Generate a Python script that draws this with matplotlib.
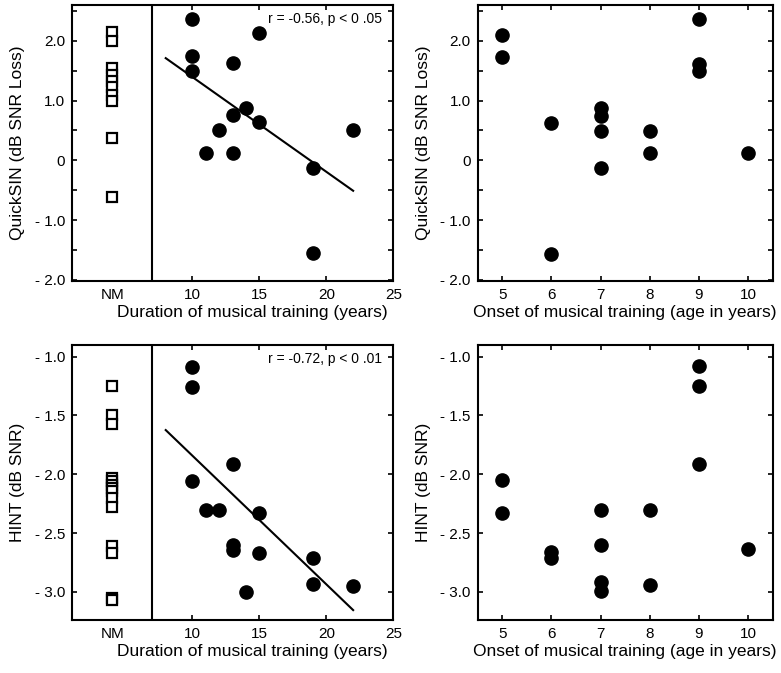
import matplotlib
matplotlib.use('Agg')
import matplotlib.pyplot as plt

plt.rcParams['font.family'] = ['Liberation Sans', 'DejaVu Sans']

# musicians: duration (years), onset (age), QuickSIN, HINT
duration_qs = [10, 15, 10, 10, 13, 14, 13, 15, 12, 22, 11, 13, 19, 19]
quicksin_mus = [2.37, 2.13, 1.74, 1.5, 1.63, 0.88, 0.76, 0.64, 0.5, 0.5, 0.13, 0.13, -0.13, -1.55]
onset_qs = [5, 5, 6, 6, 7, 7, 7, 7, 8, 8, 9, 9, 9, 10]
quicksin_onset = [2.1, 1.73, 0.63, -1.57, 0.87, 0.74, 0.49, -0.13, 0.49, 0.12, 2.37, 1.62, 1.49, 0.12]

duration_hint = [10, 10, 10, 13, 11, 12, 15, 13, 13, 15, 14, 19, 19, 22]
hint_mus = [-1.085, -1.255, -2.055, -1.913, -2.305, -2.305, -2.33, -2.6, -2.645, -2.668, -3.0, -2.716, -2.93, -2.95]
onset_hint = [5, 5, 6, 6, 7, 7, 7, 7, 8, 8, 9, 9, 9, 10]
hint_onset = [-2.05, -2.33, -2.66, -2.71, -2.3, -2.6, -2.92, -2.99, -2.3, -2.94, -1.08, -1.25, -1.91, -2.64]

# non-musicians (NM column)
quicksin_nm = [2.14, 1.99, 1.55, 1.43, 1.32, 1.22, 1.1, 1.0, 0.38, -0.62]
hint_nm = [-1.25, -1.5, -1.57, -2.03, -2.06, -2.09, -2.12, -2.14, -2.2, -2.28,
           -2.61, -2.67, -3.05, -3.07]

# regression lines (end points)
fit_x = [8, 22]
fit_qs = [1.71, -0.51]
fit_hint = [-1.624, -3.156]

NM_X = 4
DIVIDER_X = 7


def y_fmt(v):
    if abs(v) < 1e-9:
        return '0'
    if v < 0:
        return '- %.1f' % abs(v)
    return '%.1f' % v


def style_axes(ax, yticks, ylabels):
    for s in ax.spines.values():
        s.set_linewidth(1.5)
    ax.tick_params(direction='in', top=True, right=True, length=3.5, width=1.2,
                   labelsize=11, pad=5)
    ax.set_yticks(yticks)
    ax.set_yticklabels(ylabels)


fig = plt.figure(figsize=(7.81, 6.73), dpi=100)

top_y = (0.5825, 0.4101)
bot_y = (0.0788, 0.4086)
left_x = (0.0922, 0.4114)
right_x = (0.6116, 0.3778)

qs_ticks = [-2.0, -1.5, -1.0, -0.5, 0, 0.5, 1.0, 1.5, 2.0, 2.5]
qs_labels = [y_fmt(v) if abs(v * 2) % 2 == 0 else '' for v in qs_ticks]
hint_ticks = [-3.0, -2.5, -2.0, -1.5, -1.0]
hint_labels = [y_fmt(v) for v in hint_ticks]

panels = [
    (left_x, top_y, 'dur', duration_qs, quicksin_mus, quicksin_nm, fit_qs,
     'QuickSIN (dB SNR Loss)', (-2.02, 2.6), qs_ticks, qs_labels, 'r = -0.56, p < 0 .05'),
    (right_x, top_y, 'onset', onset_qs, quicksin_onset, None, None,
     'QuickSIN (dB SNR Loss)', (-2.02, 2.6), qs_ticks, qs_labels, None),
    (left_x, bot_y, 'dur', duration_hint, hint_mus, hint_nm, fit_hint,
     'HINT (dB SNR)', (-3.24, -0.9), hint_ticks, hint_labels, 'r = -0.72, p < 0 .01'),
    (right_x, bot_y, 'onset', onset_hint, hint_onset, None, None,
     'HINT (dB SNR)', (-3.24, -0.9), hint_ticks, hint_labels, None),
]

for xp, yp, kind, xs, ys, nm, fit, ylab, ylim, yt, yl, note in panels:
    ax = fig.add_axes([xp[0], yp[0], xp[1], yp[1]])
    ax.plot(xs, ys, 'o', color='black', markersize=9.5, zorder=3)
    if kind == 'dur':
        ax.plot([NM_X] * len(nm), nm, 's', markerfacecolor='white', markeredgecolor='black',
                markersize=7, markeredgewidth=1.6, zorder=3)
        ax.axvline(DIVIDER_X, color='black', linewidth=1.5)
        ax.plot(fit_x, fit, color='black', linewidth=1.5)
        ax.set_xlim(1, 25)
        ax.set_xticks([NM_X, 10, 15, 20, 25])
        ax.set_xticklabels(['NM', '10', '15', '20', '25'])
        ax.set_xlabel('Duration of musical training (years)', fontsize=12.5, labelpad=2)
        ax.xaxis.label.set_x(0.56)
        ax.text(0.965, 0.975, note, transform=ax.transAxes, ha='right', va='top', fontsize=10)
    else:
        ax.set_xlim(4.5, 10.5)
        ax.set_xticks([5, 6, 7, 8, 9, 10])
        ax.set_xlabel('Onset of musical training (age in years)', fontsize=12.5, labelpad=2)
    ax.set_ylim(*ylim)
    style_axes(ax, yt, yl)
    ax.set_ylabel(ylab, fontsize=12.5, labelpad=7)
    if kind == 'dur':
        t = ax.xaxis.get_major_ticks()[0]
        t.tick1line.set_visible(False)
        t.tick2line.set_visible(False)

fig.savefig('out.png', dpi=100)
